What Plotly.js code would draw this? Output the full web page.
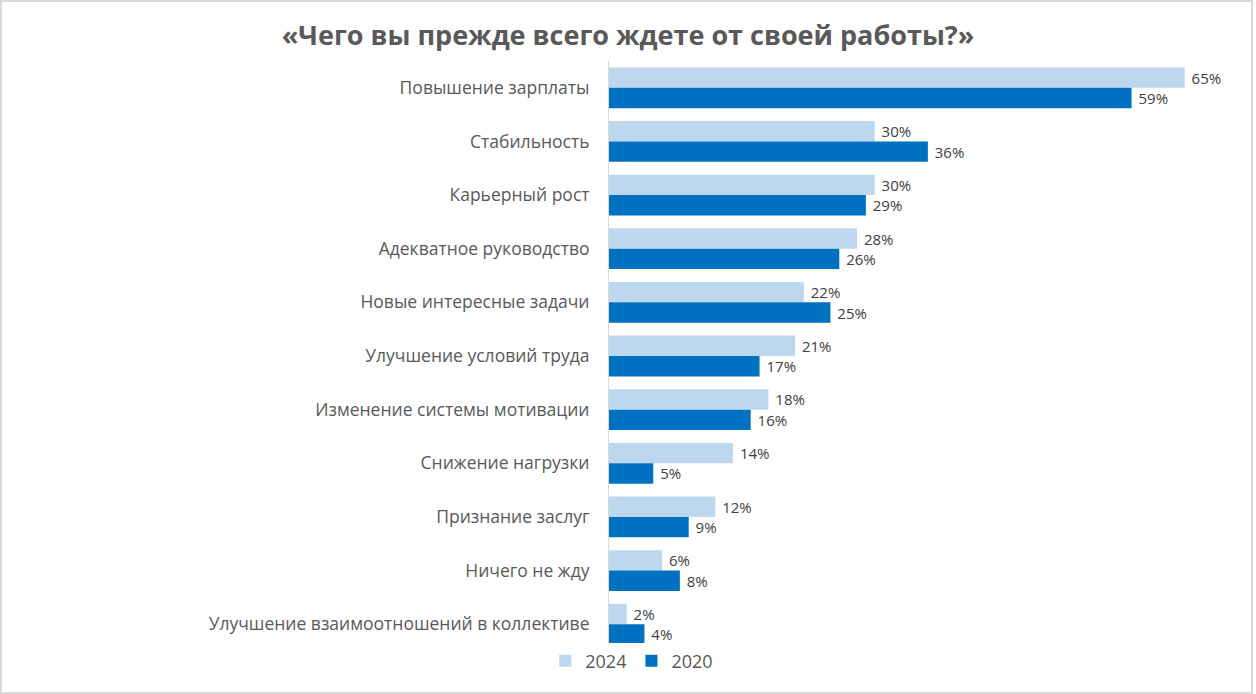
<!DOCTYPE html>
<html>
<head>
<meta charset="utf-8">
<script src="https://cdn.plot.ly/plotly-3.0.1.min.js"></script>
<style>
  body { margin: 0; background: #fff; }
  #chart { width: 1256px; height: 694px; }
  #frame { position: absolute; left: 0; top: 0; width: 1253px; height: 694px;
           box-sizing: border-box; border: 2px solid #d9d9d9; pointer-events: none; }
</style>
</head>
<body>
<div id="chart"></div>
<div id="frame"></div>
<script>
var categories = [
    "Повышение зарплаты",
    "Стабильность",
    "Карьерный рост",
    "Адекватное руководство",
    "Новые интересные задачи",
    "Улучшение условий труда",
    "Изменение системы мотивации",
    "Снижение нагрузки",
    "Признание заслуг",
    "Ничего не жду",
    "Улучшение взаимоотношений в коллективе"
];
var values2024 = [65, 30, 30, 28, 22, 21, 18, 14, 12, 6, 2];
var values2020 = [59, 36, 29, 26, 25, 17, 16, 5, 9, 8, 4];

var labelFont = { family: "Open Sans, sans-serif", size: 15, color: "#404040" };

var dataset = [
    {
        name: "2024",
        y: categories,
        x: values2024,
        type: "bar",
        orientation: "h",
        marker: { color: "#bdd7ee" },
        texttemplate: "\u00a0%{x}%",
        textposition: "outside",
        textfont: labelFont,
        cliponaxis: false,
    },
    {
        name: "2020",
        y: categories,
        x: values2020,
        type: "bar",
        orientation: "h",
        marker: { color: "#0070c0" },
        texttemplate: "\u00a0%{x}%",
        textposition: "outside",
        textfont: labelFont,
        cliponaxis: false,
    },
];

var layout = {
    width: 1256,
    height: 694,
    margin: { l: 609, r: 27, t: 61, b: 43, autoexpand: false },
    paper_bgcolor: "#fff",
    plot_bgcolor: "#fff",
    title: {
        text: "<b>«Чего вы прежде всего ждете от своей работы?»</b>",
        font: { family: "Open Sans, sans-serif", size: 27, color: "#595959" },
        x: 0.5,
        xref: "container",
        y: 1 - 36 / 694,
        yref: "container",
        yanchor: "middle",
    },
    barmode: "group",
    bargap: 0.24,
    bargroupgap: 0,
    xaxis: {
        range: [0, 70],
        showgrid: false,
        zeroline: false,
        showticklabels: false,
        showline: false,
        fixedrange: true,
    },
    yaxis: {
        autorange: "reversed",
        showline: true,
        linecolor: "#d9d9d9",
        linewidth: 1,
        ticks: "",
        ticklabelstandoff: 15,
        tickfont: { family: "Open Sans, sans-serif", size: 17.5, color: "#595959" },
    },
    showlegend: true,
    legend: {
        orientation: "h",
        x: 0.503,
        xref: "container",
        xanchor: "center",
        y: 1 - 661 / 694,
        yref: "container",
        yanchor: "middle",
        font: { family: "Open Sans, sans-serif", size: 18, color: "#595959" },
        itemwidth: 30,
    },
};

Plotly.newPlot("chart", dataset, layout, { displayModeBar: false, staticPlot: true });
</script>
</body>
</html>
